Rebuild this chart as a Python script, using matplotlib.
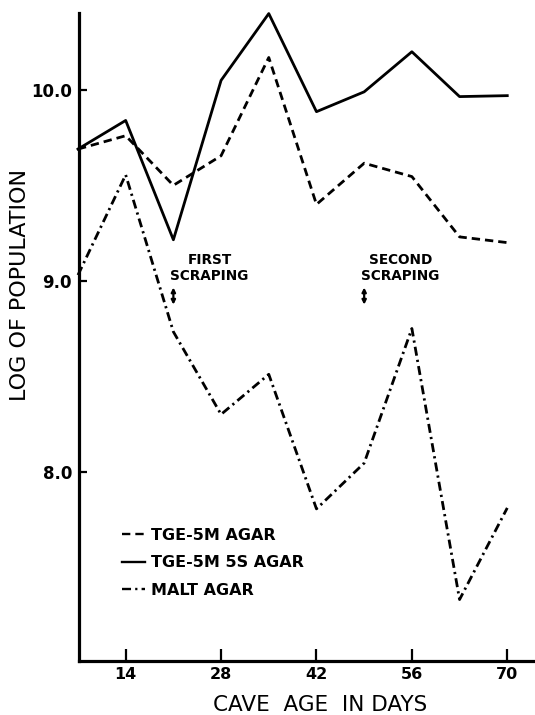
import matplotlib
matplotlib.use("Agg")
import matplotlib.pyplot as plt

# Cave age (days) at which each sample was plated
days = [7, 14, 21, 28, 35, 42, 49, 56, 63, 70]

# Log of population on each medium
tge_5m = [9.69, 9.76, 9.50, 9.655, 10.17, 9.40, 9.616, 9.546, 9.23, 9.20]
tge_5m_5s = [9.69, 9.84, 9.215, 10.05, 10.40, 9.886, 9.99, 10.20, 9.965, 9.97]
malt = [9.03, 9.555, 8.733, 8.30, 8.51, 7.805, 8.045, 8.75, 7.33, 7.81]

series_labels = ["TGE-5M AGAR", "TGE-5M 5S AGAR", "MALT AGAR"]

x_ticks = [14, 28, 42, 56, 70]
y_ticks = [8.0, 9.0, 10.0]
y_tick_labels = ["8.0", "9.0", "10.0"]

# Days on which the cave walls were scraped
scrape_days = [21, 49]
scrape_labels = ["FIRST\nSCRAPING", "SECOND\nSCRAPING"]

plt.rcParams["font.family"] = ["DejaVu Sans"]
plt.rcParams["lines.scale_dashes"] = False

fig = plt.figure(figsize=(5.35, 7.15), dpi=100)
ax = fig.add_axes([79 / 535, 54 / 715, 456 / 535, 648 / 715])

lw = 2.0
ax.plot(days, tge_5m, color="black", lw=lw, linestyle=(0, (6.0, 3.6)),
        label=series_labels[0], clip_on=False)
ax.plot(days, tge_5m_5s, color="black", lw=lw, linestyle="-",
        label=series_labels[1], clip_on=False)
ax.plot(days, malt, color="black", lw=lw, linestyle=(0, (6.5, 3.0, 1.6, 3.0)),
        label=series_labels[2], clip_on=False)

ax.set_xlim(7.15, 74.07)
ax.set_ylim(7.008, 10.403)

ax.spines["top"].set_visible(False)
ax.spines["right"].set_visible(False)
for side in ("left", "bottom"):
    ax.spines[side].set_linewidth(2.3)
    ax.spines[side].set_capstyle("projecting")

ax.set_xticks(x_ticks)
ax.set_xticklabels([str(t) for t in x_ticks], fontsize=11.5, fontweight="bold")
ax.set_yticks(y_ticks)
ax.set_yticklabels(y_tick_labels, fontsize=12, fontweight="bold")
ax.tick_params(axis="x", direction="in", length=8.5, width=1.6, pad=4)
ax.tick_params(axis="y", direction="in", length=6, width=1.6, pad=5)

# Scraping markers: small double-headed arrows with a caption above
for d, txt in zip(scrape_days, scrape_labels):
    ax.annotate("", xy=(d, 8.875), xytext=(d, 8.965),
                arrowprops=dict(arrowstyle="<|-|>", lw=1.6, color="black",
                                mutation_scale=6, shrinkA=0, shrinkB=0))
    ax.text(d + 5.3, 9.066, txt, ha="center", va="center", fontsize=9.8,
            fontweight="bold", linespacing=1.15)

leg = ax.legend(loc="upper left", bbox_to_anchor=(0.094, 0.206), frameon=False,
                borderpad=0, borderaxespad=0, handlelength=1.45,
                handletextpad=0.35, labelspacing=0.8,
                prop={"size": 11.5, "weight": "bold"})
for h in leg.get_lines():
    h.set_linewidth(1.7)

fig.text(320 / 535, 1 - 705 / 715, "CAVE  AGE  IN DAYS", ha="center", va="center",
         fontsize=15.5)
fig.text(20 / 535, 1 - 285 / 715, "LOG OF POPULATION", ha="center", va="center",
         rotation=90, fontsize=16)

fig.savefig("out.png", dpi=100, facecolor="white")
